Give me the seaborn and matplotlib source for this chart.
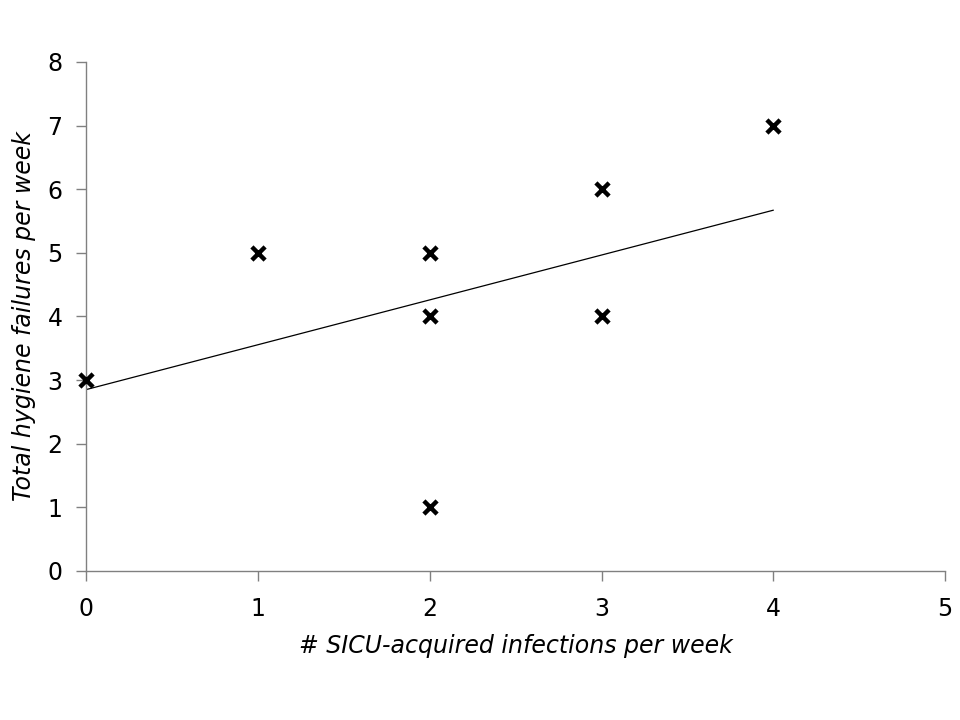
import matplotlib
matplotlib.use("Agg")
import matplotlib.pyplot as plt
import seaborn as sns
import pandas as pd

# Weekly observations
infections = [0, 1, 2, 2, 2, 3, 3, 4]
hygiene_failures = [3, 5, 5, 4, 1, 6, 4, 7]

# Trend line
trend_x = [0, 4]
trend_y = [2.85, 5.67]

df = pd.DataFrame({"infections": infections, "failures": hygiene_failures})
trend = pd.DataFrame({"x": trend_x, "y": trend_y})

sns.set_style("white")
plt.rcParams["font.family"] = ["DejaVu Sans"]

fig = plt.figure(figsize=(9.6, 7.2), dpi=100)
ax = fig.add_axes([0.0896, 0.207, 0.895, 0.707])

sns.lineplot(data=trend, x="x", y="y", ax=ax, color="black", linewidth=0.9)
sns.scatterplot(data=df, x="infections", y="failures", ax=ax, marker="x",
                color="black", s=90, linewidth=3.2, zorder=3, clip_on=False)

ax.set_xlim(0, 5)
ax.set_ylim(0, 8)
ax.set_xticks(range(0, 6))
ax.set_yticks(range(0, 9))
ax.set_xlabel("# SICU-acquired infections per week", fontsize=17,
              style="italic", labelpad=9, color="black")
ax.set_ylabel("Total hygiene failures per week", fontsize=17,
              style="italic", labelpad=8, color="black")

for side in ["top", "right"]:
    ax.spines[side].set_visible(False)
for side in ["left", "bottom"]:
    ax.spines[side].set_color("#808080")
    ax.spines[side].set_linewidth(1)
ax.tick_params(axis="both", direction="out", length=7, width=1,
               color="#808080", labelcolor="black", labelsize=17,
               left=True, bottom=True)
ax.tick_params(axis="x", pad=12)
ax.tick_params(axis="y", pad=10)

fig.savefig("out.png", dpi=100)
